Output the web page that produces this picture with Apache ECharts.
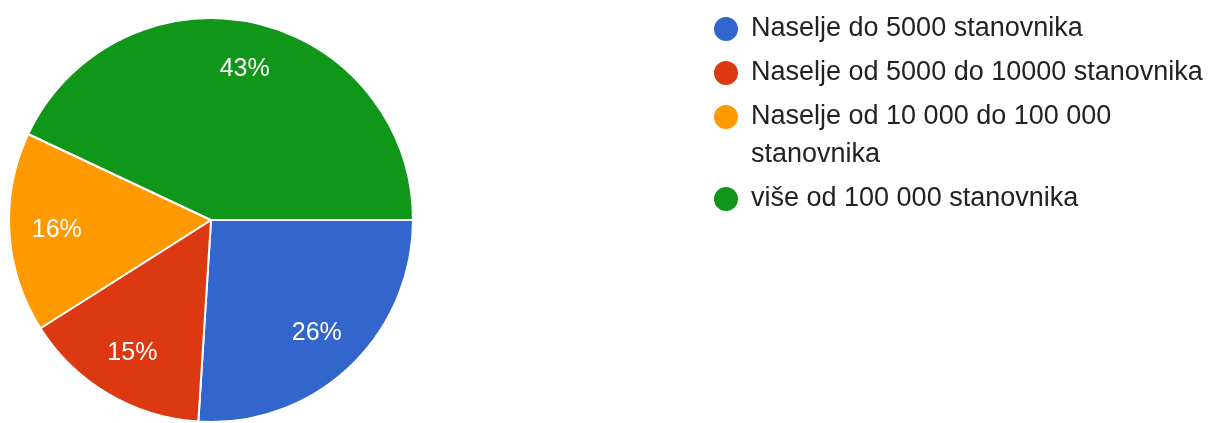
<!DOCTYPE html>
<html>
<head>
<meta charset="utf-8">
<script src="https://cdn.jsdelivr.net/npm/echarts@6/dist/echarts.min.js"></script>
<style>html,body{margin:0;padding:0;background:#fff;}#c{width:1211px;height:423px;}</style>
</head>
<body>
<div id="c"></div>
<script>
const categories = ['Naselje do 5000 stanovnika', 'Naselje od 5000 do 10000 stanovnika', 'Naselje od 10 000 do 100 000 stanovnika', 'više od 100 000 stanovnika'];
const values = [26, 15, 16, 43];
const colors = ['#3366cc', '#dc3912', '#ff9900', '#109618'];

const data = categories.map((n, i) => ({ name: n, value: values[i] }));
const chart = echarts.init(document.getElementById('c'));
const R = 202;
const legendText = {
  fontFamily: 'Liberation Sans, Arial, sans-serif',
  fontSize: 27,
  color: '#222',
  lineHeight: 38,
  width: 470,
  overflow: 'break'
};
const legendBase = {
  orient: 'vertical',
  left: 707,
  icon: 'circle',
  itemWidth: 40,
  itemHeight: 26,
  itemGap: 6,
  selectedMode: false,
  textStyle: legendText
};
chart.setOption({
  animation: false,
  color: colors,
  legend: [
    Object.assign({}, legendBase, { top: 5, data: categories.slice(0, 2) }),
    Object.assign({}, legendBase, {
      top: 55,
      data: categories.slice(2),
      // leading empty line keeps the icon level with the first wrapped line
      formatter: name => (name === categories[2] ? '\n' + name : name)
    })
  ],
  series: [
    {
      type: 'pie',
      center: [211, 220],
      radius: [0, R],
      startAngle: 0,
      clockwise: true,
      data: data,
      label: { show: false },
      labelLine: { show: false },
      itemStyle: { borderColor: '#fff', borderWidth: 2 },
      emphasis: { disabled: true }
    },
    {
      type: 'pie',
      center: [211, 220],
      radius: [R * 0.5, R],
      startAngle: 0,
      clockwise: true,
      silent: true,
      data: data,
      itemStyle: { color: 'rgba(0,0,0,0)', borderWidth: 0 },
      label: {
        show: true,
        position: 'inside',
        formatter: p => Math.round(p.percent) + '%',
        color: '#fff',
        fontFamily: 'Liberation Sans, Arial, sans-serif',
        fontSize: 25
      },
      labelLine: { show: false },
      emphasis: { disabled: true }
    }
  ]
});
</script>
</body>
</html>
